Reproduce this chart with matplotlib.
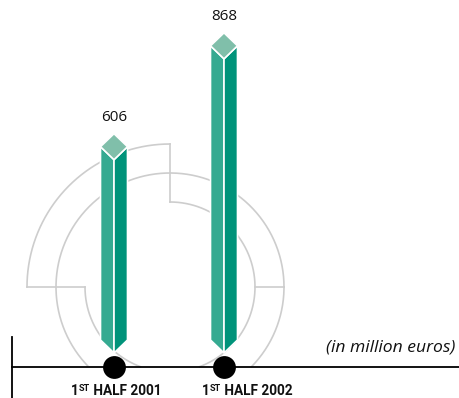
import matplotlib
matplotlib.use("Agg")
import numpy as np
import matplotlib.pyplot as plt
from matplotlib.patches import Polygon
from matplotlib.transforms import Affine2D

# data
periods = ["2001", "2002"]
values = [606, 868]
value_labels = ["606", "868"]

W, H = 459, 398
PX_X = 110.0    # pixels per category step
PX_Y = 0.385    # pixels per million euros
X0, BASE = 114, 367   # pixel position of first category and of the baseline (from top)

fig = plt.figure(figsize=(W / 100, H / 100), dpi=100)
ax = fig.add_axes([0, 0, 1, 1])
ax.set_xlim(-X0 / PX_X, (W - X0) / PX_X)
ax.set_ylim(-(H - BASE) / PX_Y, BASE / PX_Y)
ax.axis("off")

# plain pixel coordinates, origin bottom-left
pix = Affine2D().scale(1 / W, 1 / H) + fig.transFigure


def dx(p):
    return p / PX_X


def dy(p):
    return p / PX_Y


# decorative rings behind the bars (pixel geometry, y measured from top)
grey = "#cdcdcd"
cx, cy = 170, 287


def ring(r, a0, a1):
    th = np.radians(np.linspace(a0, a1, 400))
    x = cx + r * np.cos(th)
    y = cy - r * np.sin(th)
    y = np.where(y > BASE, np.nan, y)
    ax.plot(x, H - y, color=grey, lw=1.2, transform=pix, zorder=1)


ring(143, 90, 180)
ring(114, 0, 360)
ring(85, 180, 450)
for xs, ys in [((cx, cx), (cy - 143, cy - 85)),
               ((cx - 143, cx - 85), (cy, cy)),
               ((cx + 85, cx + 114), (cy, cy))]:
    ax.plot(xs, [H - v for v in ys], color=grey, lw=1.2, transform=pix, zorder=1)

# prism bars with diamond caps
light, dark, top = "#35aa91", "#00937a", "#80bfaa"
hw = dx(13.5)
for i, v in enumerate(values):
    c = i
    cap = [(c, v), (c + hw, v - dy(13)), (c, v - dy(26)), (c - hw, v - dy(13))]
    left = [(c - hw, v - dy(13)), (c, v - dy(26)), (c, dy(14)), (c - hw, dy(27))]
    right = [(c + hw, v - dy(13)), (c, v - dy(26)), (c, dy(14)), (c + hw, dy(27))]
    ax.add_patch(Polygon(left, closed=True, fc=light, ec="white", lw=1.2, zorder=3))
    ax.add_patch(Polygon(right, closed=True, fc=dark, ec="white", lw=1.2, zorder=3))
    ax.add_patch(Polygon(cap, closed=True, fc=top, ec="white", lw=1.2, zorder=4))
    ax.text(c, v + dy(9), value_labels[i], ha="center", va="bottom",
            fontsize=11, family="Open Sans", color="#111111")

# baseline, left tick and dots
ax.plot([dx(12 - X0), dx(W - X0)], [0, 0], color="black", lw=1.3, zorder=5)
ax.plot([dx(12 - X0)] * 2, [dy(-31), dy(30)], color="black", lw=1.3, zorder=5)
ax.scatter(range(len(values)), [0] * len(values), s=270, color="black",
           lw=0, zorder=6)

ax.text(dx(455 - X0), dy(20), "(in million euros)", ha="right", va="center",
        fontsize=12.6, style="italic", family="Open Sans", color="#111111")

# period labels with superscript "ST"
renderer = fig.canvas.get_renderer()


def period_label(x, year, align):
    parts = [("1", 9.8, 0), ("ST", 6.6, 4), (" HALF " + year, 9.8, 0)]
    texts = []
    for s, fs, rise in parts:
        t = fig.text(0, 0, s, fontsize=fs, fontweight="bold", family="Roboto",
                     transform=pix, va="baseline", color="#111111")
        texts.append((t, rise))
    widths = [t.get_window_extent(renderer).width for t, _ in texts]
    total = sum(widths)
    x_start = x - total / 2 if align == "center" else x
    ybase = H - 395
    for (t, rise), w in zip(texts, widths):
        t.set_position((x_start, ybase + rise))
        x_start += w


period_label(X0 + 2, periods[0], "center")
period_label(202, periods[1], "left")

fig.savefig("out.png", dpi=100)
